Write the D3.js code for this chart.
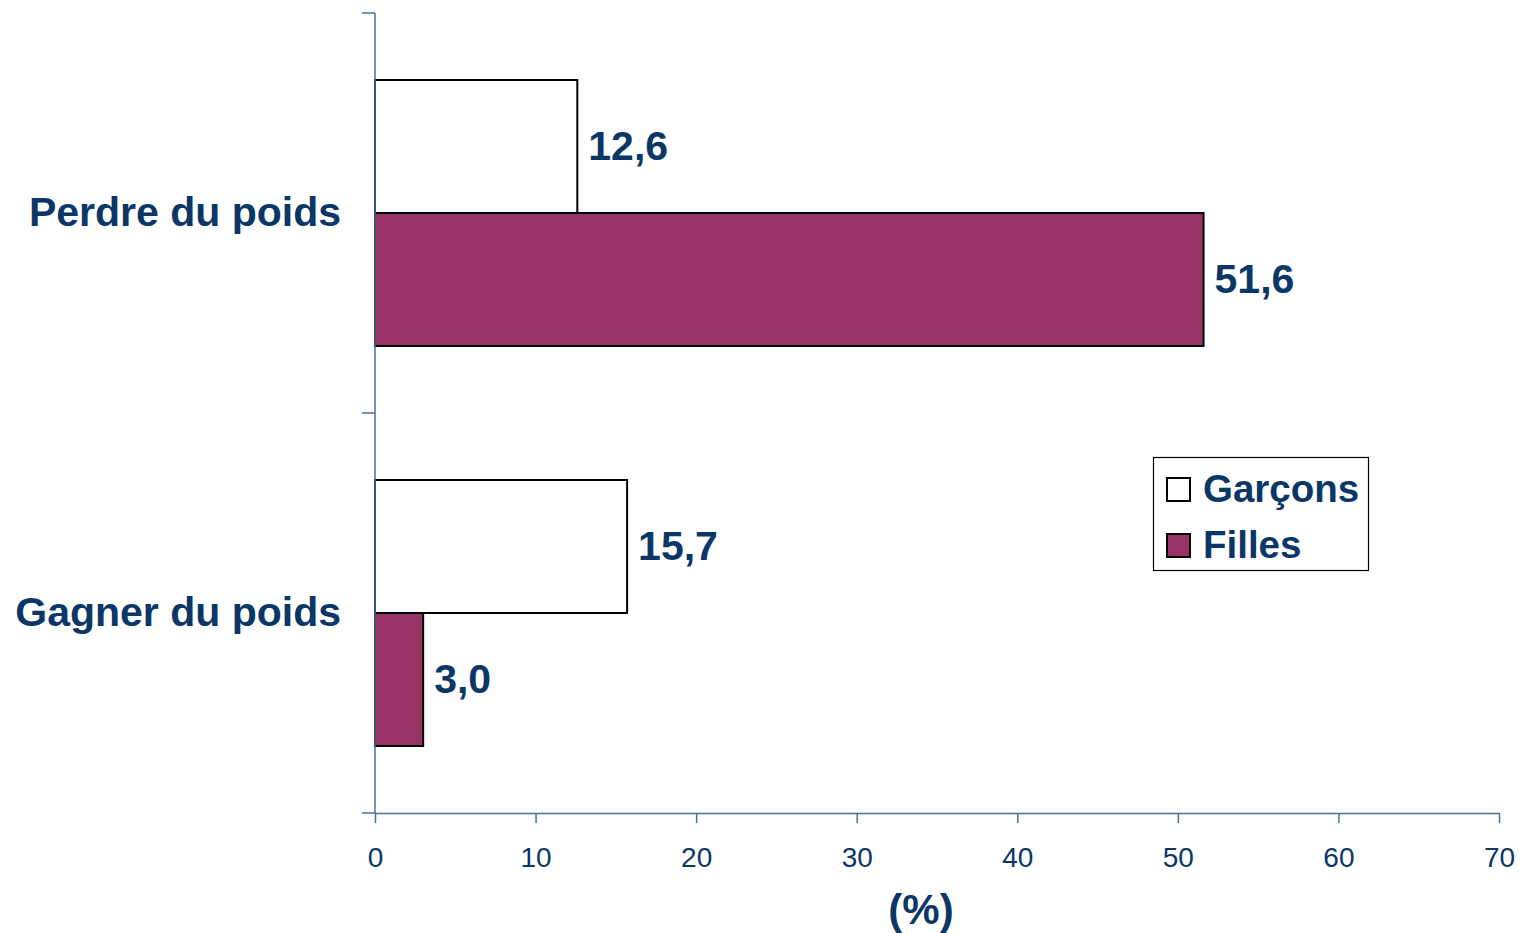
<!DOCTYPE html>
<html><head><meta charset="utf-8">
<script src="https://cdn.jsdelivr.net/npm/d3@7"></script>
<style>body{margin:0;background:#fff}svg{display:block;font-family:"Liberation Sans",Arial,sans-serif}</style>
</head><body>
<svg id="c" width="1522" height="933"></svg>
<script>
const categories = ["Perdre du poids", "Gagner du poids"];
const seriesNames = ["Garçons", "Filles"];
const garcons = [12.6, 15.7];
const filles = [51.6, 3.0];
const valueLabels = [["12,6", "51,6"], ["15,7", "3,0"]];
const xTicks = [0, 10, 20, 30, 40, 50, 60, 70];
const axisTitle = "(%)";

const navy = "#0b3766", axisCol = "#4d6f96";
const colors = ["#ffffff", "#993366"];
const svg = d3.select("#c");
const x = d3.scaleLinear().domain([0, 70]).range([375, 1499]);
const y = d3.scaleBand().domain(categories).range([13, 813]).paddingInner(0.335).paddingOuter(0.1675);
const ys = d3.scaleBand().domain(seriesNames).range([0, y.bandwidth()]);

// bars
const data = categories.map((c, i) => ({cat: c, vals: [garcons[i], filles[i]], labels: valueLabels[i]}));
data.forEach(d => {
  d.vals.forEach((v, j) => {
    const y0 = y(d.cat) + ys(seriesNames[j]);
    svg.append("rect").attr("x", x(0)).attr("y", y0)
      .attr("width", x(v) - x(0)).attr("height", ys.bandwidth())
      .attr("fill", colors[j]).attr("stroke", "#000").attr("stroke-width", 2);
    svg.append("text").attr("x", x(v) + 11).attr("y", y0 + ys.bandwidth() / 2)
      .attr("dy", "0.32em").attr("fill", navy).attr("font-weight", "bold")
      .attr("font-size", 41).text(d.labels[j]);
  });
  svg.append("text").attr("x", 341).attr("y", y(d.cat) + y.bandwidth() / 2)
    .attr("dy", "0.32em").attr("text-anchor", "end").attr("fill", navy)
    .attr("font-weight", "bold").attr("font-size", 41).text(d.cat);
});

// y axis
svg.append("line").attr("x1", 375).attr("x2", 375).attr("y1", 13).attr("y2", 813)
  .attr("stroke", axisCol).attr("stroke-width", 1.5);
const yTickPos = [13, 13 + y.step(), 813];
yTickPos.forEach(p => svg.append("line").attr("x1", 362).attr("x2", 375).attr("y1", p).attr("y2", p)
  .attr("stroke", axisCol).attr("stroke-width", 1.5));

// x axis
const gx = svg.append("g").attr("transform", "translate(0,813)")
  .call(d3.axisBottom(x).tickValues(xTicks).tickSize(10).tickSizeOuter(0).tickPadding(24));
gx.select(".domain").attr("stroke", axisCol).attr("stroke-width", 1.5);
gx.selectAll(".tick line").attr("stroke", axisCol).attr("stroke-width", 1.5);
gx.selectAll(".tick text").attr("fill", navy).attr("font-size", 28)
  .attr("font-family", '"Liberation Sans",Arial,sans-serif');

svg.append("text").attr("x", 921).attr("y", 910).attr("dy", "0.34em").attr("text-anchor", "middle")
  .attr("fill", navy).attr("font-weight", "bold").attr("font-size", 42).text(axisTitle);

// legend
const lg = svg.append("g");
lg.append("rect").attr("x", 1153.5).attr("y", 457.5).attr("width", 215).attr("height", 113)
  .attr("fill", "#fff").attr("stroke", "#000").attr("stroke-width", 1.2);
seriesNames.forEach((s, j) => {
  const cy = 489 + j * 56;
  lg.append("rect").attr("x", 1167).attr("y", cy - 11).attr("width", 23).attr("height", 23)
    .attr("fill", colors[j]).attr("stroke", "#000").attr("stroke-width", 2);
  lg.append("text").attr("x", 1203).attr("y", cy).attr("dy", "0.33em").attr("fill", navy)
    .attr("font-weight", "bold").attr("font-size", 38.5).text(s);
});
</script>
</body></html>
